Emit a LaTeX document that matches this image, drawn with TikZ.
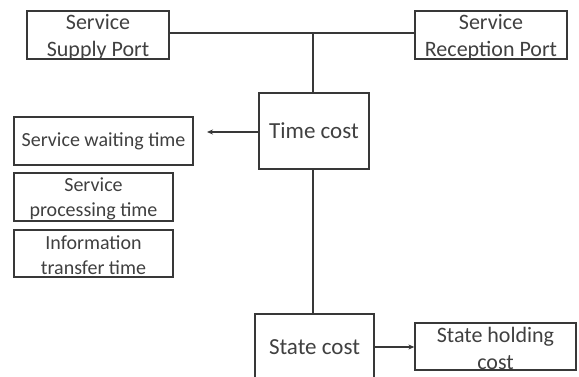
\documentclass[tikz,border=0pt]{standalone}
\usepackage{fontspec}
\setmainfont{Carlito}
\usetikzlibrary{arrows.meta}
\definecolor{ln}{HTML}{383838}
\definecolor{tx}{HTML}{404040}
\tikzset{
  box/.style={draw=ln, line width=1.3pt, rectangle, inner sep=0pt},
  big/.style={text=tx, align=center, inner sep=0pt, font=\fontsize{22}{27}\selectfont},
  bigger/.style={text=tx, align=center, inner sep=0pt, font=\fontsize{23}{27}\selectfont},
  small/.style={text=tx, align=center, inner sep=0pt, font=\fontsize{20}{25}\selectfont},
  conn/.style={draw=ln, line width=1.1pt},
  arr/.style={conn, -{Stealth[length=6pt,width=5pt]}}
}
\begin{document}
\begin{tikzpicture}[x=1pt,y=-1pt]
\useasboundingbox (0,0) rectangle (579,377);
% boxes
\node[box, minimum width=142pt, minimum height=48pt] (ssp) at (98,35) {};
\node[box, minimum width=152pt, minimum height=48pt] (srp) at (491,35) {};
\node[box, minimum width=110pt, minimum height=76pt] (tc) at (314,131) {};
\node[box, minimum width=179pt, minimum height=48pt] (swt) at (103.5,141) {};
\node[box, minimum width=159pt, minimum height=48pt] (spt) at (93.5,197) {};
\node[box, minimum width=159pt, minimum height=47pt] (itt) at (93.5,253.5) {};
\node[box, minimum width=119pt, minimum height=66pt] (sc) at (314.5,347) {};
\node[box, minimum width=161pt, minimum height=47pt] (shc) at (495.5,346.5) {};
% texts
\node[big] (ssp-t) at ([yshift=-2pt]ssp.center) {Service\\Supply Port};
\node[big] (srp-t) at ([yshift=-2pt]srp.center) {Service\\Reception Port};
\node[bigger] (tc-t) at (tc.center) {Time cost};
\node[small] (swt-t) at (swt.center) {Service waiting time};
\node[small] (spt-t) at ([yshift=-2pt]spt.center) {Service\\processing time};
\node[small] (itt-t) at ([yshift=-2pt]itt.center) {Information\\transfer time};
\node[bigger] (sc-t) at (sc.center) {State cost};
\node[big] (shc-t) at ([yshift=-2pt]shc.center) {State holding\\cost};
% connectors
\coordinate (j) at (313,33);
\coordinate (ae) at (207,132);
\draw[conn] (ssp.east |- j) -- (srp.west |- j);
\draw[conn] (j) -- (j |- tc.north);
\draw[conn] (j |- tc.south) -- (j |- sc.north);
\draw[arr] (tc.west |- ae) -- (ae);
\draw[arr] (sc.east) -- (shc.west |- sc.east);
\end{tikzpicture}
\end{document}
